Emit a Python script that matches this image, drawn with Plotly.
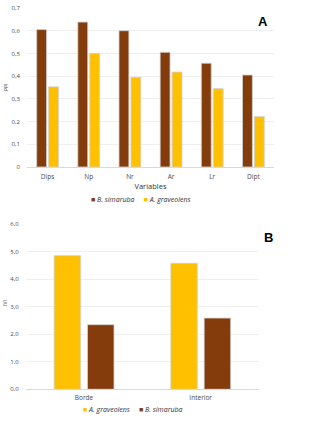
import plotly.graph_objects as go

# Chart A data
vars_a = ["Dips", "Np", "Nr", "Ar", "Lr", "Dipt"]
simaruba_a = [0.605, 0.638, 0.600, 0.505, 0.457, 0.405]
graveolens_a = [0.353, 0.500, 0.395, 0.418, 0.345, 0.222]
ticks_a = [0, 0.1, 0.2, 0.3, 0.4, 0.5, 0.6, 0.7]
ticklabels_a = ["0", "0,1", "0,2", "0,3", "0,4", "0,5", "0,6", "0,7"]

# Chart B data
sites_b = ["Borde", "Interior"]
graveolens_b = [4.86, 4.58]
simaruba_b = [2.35, 2.59]
ticks_b = [0, 1, 2, 3, 4, 5, 6]
ticklabels_b = ["0,0", "1,0", "2,0", "3,0", "4,0", "5,0", "6,0"]

BROWN = "#843C0C"
YELLOW = "#FFC000"
EDGE = "#D0D0D0"
FONT = "Open Sans"
TICKC = "#4A4A4A"

fig = go.Figure()

fig.add_trace(go.Bar(x=vars_a, y=simaruba_a, name="B. simaruba", marker=dict(color=BROWN, line=dict(color=EDGE, width=0.8)),
                     width=0.24, offset=-0.265, xaxis="x", yaxis="y", showlegend=False))
fig.add_trace(go.Bar(x=vars_a, y=graveolens_a, name="A. graveolens", marker=dict(color=YELLOW, line=dict(color=EDGE, width=0.8)),
                     width=0.24, offset=0.025, xaxis="x", yaxis="y", showlegend=False))

fig.add_trace(go.Bar(x=sites_b, y=graveolens_b, name="A. graveolens", marker=dict(color=YELLOW, line=dict(color=EDGE, width=0.8)),
                     width=0.227, offset=-0.256, xaxis="x2", yaxis="y2", showlegend=False))
fig.add_trace(go.Bar(x=sites_b, y=simaruba_b, name="B. simaruba", marker=dict(color=BROWN, line=dict(color=EDGE, width=0.8)),
                     width=0.227, offset=0.03, xaxis="x2", yaxis="y2", showlegend=False))

W, H = 325, 426

def px(x):
    return x / W

def py(y):
    return 1 - y / H

def key(color, label):
    return f"<span style='color:{color}'>■</span> <i>{label}</i>"

LEGC = "#333333"

def note(text, x, y, size, color, family=FONT, angle=0):
    return dict(text=text, x=px(x), y=py(y), xref="paper", yref="paper", showarrow=False,
                xanchor="center", yanchor="middle", textangle=angle,
                font=dict(size=size, color=color, family=family))

fig.update_layout(
    width=W, height=H,
    margin=dict(l=0, r=0, t=0, b=0, autoexpand=False),
    paper_bgcolor="white", plot_bgcolor="white",
    font=dict(family=FONT, size=7, color=TICKC),
    barmode="overlay",
    showlegend=False,
    xaxis=dict(domain=[px(27), px(274)], anchor="y", showgrid=False, showline=True, linecolor="#D9D9D9", linewidth=1,
               tickfont=dict(size=6.5, color=TICKC), ticks="", automargin=False, ticklabelstandoff=3,
               title=dict(text="Variables", font=dict(size=7.5, color=LEGC), standoff=3)),
    yaxis=dict(domain=[py(167), py(8)], anchor="x", range=[0, 0.7], tickvals=ticks_a, ticktext=ticklabels_a,
               showgrid=True, gridcolor="#EFEFEF", gridwidth=1, zeroline=False, showline=False, automargin=False,
               tickfont=dict(size=6, color=TICKC), ticklabelstandoff=6),
    xaxis2=dict(domain=[px(25.7), px(259)], anchor="y2", showgrid=False, showline=True, linecolor="#D9D9D9", linewidth=1,
                tickfont=dict(size=6.5, color=TICKC), ticks="", automargin=False, ticklabelstandoff=2),
    yaxis2=dict(domain=[py(389.3), py(224.3)], anchor="x2", range=[0, 6], tickvals=ticks_b, ticktext=ticklabels_b,
                showgrid=True, gridcolor="#EFEFEF", gridwidth=1, zeroline=False, showline=False, automargin=False,
                tickfont=dict(size=6, color=TICKC), ticklabelstandoff=6),
    annotations=[
        note("<b>A</b>", 263, 21, 13, "black", "Liberation Sans"),
        note("<b>B</b>", 268, 238, 13, "black", "Liberation Sans"),
        note("PPI", 6, 88, 5, TICKC, angle=-90),
        note("IVI", 5, 303, 5, TICKC, angle=-90),
        note(key(BROWN, "B. simaruba") + "     " + key(YELLOW, "A. graveolens"), 140, 199, 7, LEGC),
        note(key(YELLOW, "A. graveolens") + "     " + key(BROWN, "B. simaruba"), 132, 409, 7, LEGC),
    ],
)

fig.write_html("out.html", config={"displayModeBar": False},
               post_script="document.body.style.margin='0';document.body.style.padding='0';")
